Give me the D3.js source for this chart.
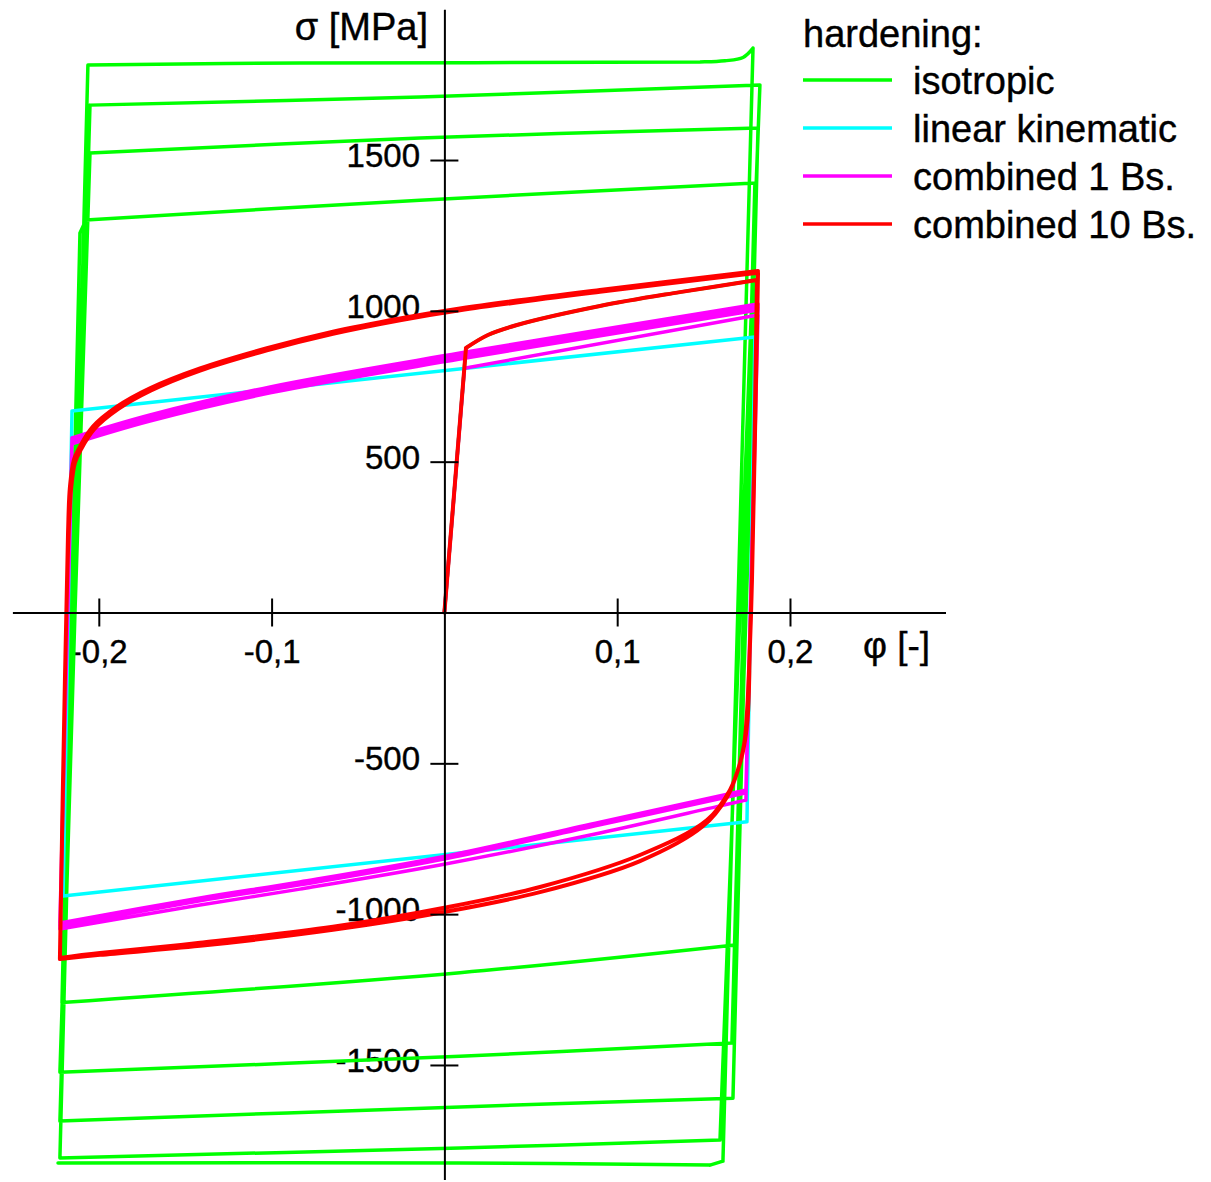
<!DOCTYPE html>
<html>
<head>
<meta charset="utf-8">
<script src="https://cdn.jsdelivr.net/npm/d3@7"></script>
<style>
body { margin: 0; background: #fff; }
svg text { font-family: "Liberation Sans", Arial, sans-serif; fill: #000; stroke: #000; stroke-width: 0.4px; }
</style>
</head>
<body>
<svg></svg>
<script>
var svgWidth = 1211, svgHeight = 1182;

// each series is a list of branches of [phi, sigma MPa] points;
// branches meet at the sharp turning points of the loops
var isotropic = [
    [[0, 0], [0.0125, 877]],
    [[0.0125, 877], [0.0252, 920], [0.042, 953], [0.09, 1016], [0.1363, 1062], [0.1809, 1102]],
    [[0.1809, 1102], [0.1682, -1102]],
    [[0.1682, -1102], [0.009, -1194], [-0.2213, -1293]],
    [[-0.2213, -1293], [-0.2109, 1258]],
    [[-0.2109, 1258], [-0.2074, 1301]],
    [[-0.2074, 1301], [-0.0141, 1367], [0.1797, 1424]],
    [[0.1797, 1424], [0.1664, -1427]],
    [[0.1664, -1427], [0.009, -1471], [-0.2225, -1524]],
    [[-0.2225, -1524], [-0.2051, 1523]],
    [[-0.2051, 1523], [-0.0141, 1573], [0.1815, 1606]],
    [[0.1815, 1606], [0.167, -1610]],
    [[0.167, -1610], [0.009, -1639], [-0.2225, -1686]],
    [[-0.2225, -1686], [-0.2051, 1682]],
    [[-0.2051, 1682], [-0.0141, 1709], [0.1826, 1749]],
    [[0.1826, 1749], [0.1595, -1749]],
    [[0.1595, -1749], [0.009, -1775], [-0.2225, -1808]],
    [[-0.2225, -1808], [-0.2063, 1815]],
    [[-0.2063, 1815], [-0.0836, 1822], [0.1479, 1825], [0.1623, 1829], [0.1728, 1840], [0.1786, 1871]],
    [[0.1786, 1871], [0.1612, -1819]],
    [[0.1612, -1819], [0.1537, -1832]],
    [[0.1537, -1832], [0.009, -1825], [-0.2236, -1825]]
];

var linearKinematic = [
    [[0, 0], [0.0116, 810]],
    [[0.0116, 810], [0.1797, 913]],
    [[0.1797, 913], [0.1751, -694]],
    [[0.1751, -694], [-0.2207, -940]],
    [[-0.2207, -940], [-0.2155, 668]],
    [[-0.2155, 668], [0.1797, 913]]
];

var combined1 = [
    [[0, 0], [0.0116, 810]],
    [[0.0116, 810], [0.1815, 986]],
    [[0.1815, 986], [0.1745, -622]],
    [[0.1745, -622], [0.1595, -641], [0.09, -731], [-0.0025, -837], [-0.0836, -917], [-0.1414, -970], [-0.2225, -1049]],
    [[-0.2225, -1049], [-0.2155, 579]],
    [[-0.2155, 579], [-0.1704, 655], [-0.1008, 748], [0.009, 860], [0.1815, 1023]],
    [[0.1815, 1023], [0.1745, -588]],
    [[0.1745, -588], [0.167, -598], [0.09, -695], [-0.0025, -811], [-0.0836, -893], [-0.1414, -946], [-0.2225, -1029]],
    [[-0.2225, -1029], [-0.2155, 569]],
    [[-0.2155, 569], [-0.1704, 645], [-0.1008, 738], [0.009, 850], [0.1815, 1013]],
    [[0.1815, 1013], [0.1745, -598]],
    [[0.1745, -598], [0.167, -608], [0.09, -704], [-0.0025, -820], [-0.0836, -903], [-0.1414, -956], [-0.2225, -1039]],
    [[-0.2225, -1039], [-0.2155, 559]],
    [[-0.2155, 559], [-0.1704, 635], [-0.1008, 728], [0.009, 840], [0.1815, 1003]]
];

var combined10 = [
    [[0, 0], [0.0125, 877]],
    [[0.0125, 877], [0.0252, 920], [0.042, 953], [0.09, 1016], [0.1363, 1062], [0.1809, 1102]],
    [[0.1809, 1102], [0.178, 108], [0.1768, -114], [0.1751, -333], [0.1734, -439], [0.1699, -522],
     [0.1635, -612], [0.1497, -708], [0.1132, -824], [0.0553, -927], [0, -993], [-0.0645, -1052],
     [-0.1414, -1105], [-0.1993, -1135], [-0.2225, -1149]],
    [[-0.2225, -1149], [-0.2196, -224], [-0.2175, 258], [-0.2161, 406], [-0.2138, 497], [-0.2103, 541],
     [-0.2028, 607], [-0.1889, 674], [-0.1698, 736], [-0.1414, 802], [-0.1027, 869], [-0.0645, 924],
     [-0.0257, 969], [0.009, 1002], [0.09, 1063], [0.1815, 1126]],
    [[0.1815, 1126], [0.178, 108], [0.1768, -114], [0.1757, -333], [0.174, -423], [0.1711, -499],
     [0.1653, -588], [0.152, -688], [0.1132, -804], [0.0553, -910], [0, -979], [-0.0645, -1042],
     [-0.1414, -1095], [-0.1993, -1129], [-0.2225, -1145]],
    [[-0.2225, -1145], [-0.2196, -224], [-0.2178, 264], [-0.2167, 416], [-0.2144, 506], [-0.2109, 550],
     [-0.2034, 616], [-0.1895, 682], [-0.1704, 743], [-0.1414, 809], [-0.1027, 876], [-0.0645, 931],
     [-0.0257, 975], [0.009, 1008], [0.09, 1069], [0.1815, 1132]]
];

var xTicks = [-0.2, -0.1, 0.1, 0.2];
var yTicks = [-1500, -1000, -500, 500, 1000, 1500];

var legendTitle = "hardening:";
var legendNames = ["isotropic", "linear kinematic", "combined 1 Bs.", "combined 10 Bs."];
var legendColors = ["#00ff00", "#00ffff", "#ff00ff", "#ff0000"];

var series = [
    {branches: isotropic, color: "#00ff00", width: 3.5},
    {branches: linearKinematic, color: "#00ffff", width: 3.5},
    {branches: combined1, color: "#ff00ff", width: 3.5},
    {branches: combined10, color: "#ff0000", width: 4}
];

var svg = d3.select("svg")
            .attr("width", svgWidth)
            .attr("height", svgHeight);

svg.append("rect").attr("width", svgWidth).attr("height", svgHeight).attr("fill", "#fff");

var x = d3.scaleLinear().domain([-0.25, 0.29]).range([12.4, 945.5]);
var y = d3.scaleLinear().domain([2000, -1880]).range([9.2, 1179.6]);

// comma decimals and a plain hyphen for minus, like the picture
var loc = d3.formatLocale({decimal: ",", thousands: "", grouping: [3], currency: ["", ""], minus: "-"});
var fx = loc.format(".1f"), fy = loc.format("d");

// tick labels sit under the curves
var xLabels = svg.append("g")
    .attr("transform", "translate(0," + y(0) + ")")
    .call(d3.axisBottom(x).tickValues(xTicks).tickFormat(fx).tickSize(0));
xLabels.attr("font-size", 33).attr("font-family", null);
xLabels.select(".domain").remove();
xLabels.selectAll("text").attr("y", 50.5).attr("dy", 0);

var yLabels = svg.append("g")
    .attr("transform", "translate(" + x(0) + ",0)")
    .call(d3.axisLeft(y).tickValues(yTicks).tickFormat(fy).tickSize(0).tickPadding(24.4));
yLabels.attr("font-size", 33).attr("font-family", null);
yLabels.select(".domain").remove();
yLabels.selectAll("text").attr("dy", "0.2em");

var line = d3.line()
    .x(function(d) { return x(d[0]); })
    .y(function(d) { return y(d[1]); })
    .curve(d3.curveCatmullRom.alpha(0.5));

svg.selectAll(".curve")
    .data(series)
    .enter().append("path")
        .attr("class", "curve")
        .attr("d", function(d) { return d.branches.map(function(b) { return line(b); }).join(""); })
        .attr("fill", "none")
        .attr("stroke", function(d) { return d.color; })
        .attr("stroke-width", function(d) { return d.width; })
        .attr("stroke-linejoin", "round")
        .attr("stroke-linecap", "round");

// axis lines drawn on top, ticks cross the axis
var xAxis = svg.append("g")
    .attr("transform", "translate(0," + y(0) + ")")
    .call(d3.axisBottom(x).tickValues(xTicks).tickSize(14).tickSizeOuter(0).tickFormat(""));
xAxis.selectAll(".tick line").attr("y1", -14);

var yAxis = svg.append("g")
    .attr("transform", "translate(" + x(0) + ",0)")
    .call(d3.axisLeft(y).tickValues(yTicks).tickSize(14).tickSizeOuter(0).tickFormat(""));
yAxis.selectAll(".tick line").attr("x1", 14);

svg.selectAll(".domain, .tick line").attr("stroke", "#000").attr("stroke-width", 2);

svg.append("text")
    .attr("x", 428).attr("y", 40)
    .attr("text-anchor", "end")
    .attr("font-size", 38)
    .text("σ [MPa]");

svg.append("text")
    .attr("x", 863).attr("y", 658)
    .attr("font-size", 37)
    .text("φ [-]");

var legend = svg.append("g");

legend.append("text")
    .attr("x", 803).attr("y", 46.7)
    .attr("font-size", 38)
    .text(legendTitle);

var items = legend.selectAll(".item")
    .data(legendNames)
    .enter().append("g")
        .attr("class", "item")
        .attr("transform", function(d, i) { return "translate(0," + (80 + i * 48) + ")"; });

items.append("line")
    .attr("x1", 803).attr("x2", 892)
    .attr("stroke", function(d, i) { return legendColors[i]; })
    .attr("stroke-width", 3.5);

items.append("text")
    .attr("x", 913).attr("y", 14)
    .attr("font-size", 38)
    .text(function(d) { return d; });
</script>
</body>
</html>
